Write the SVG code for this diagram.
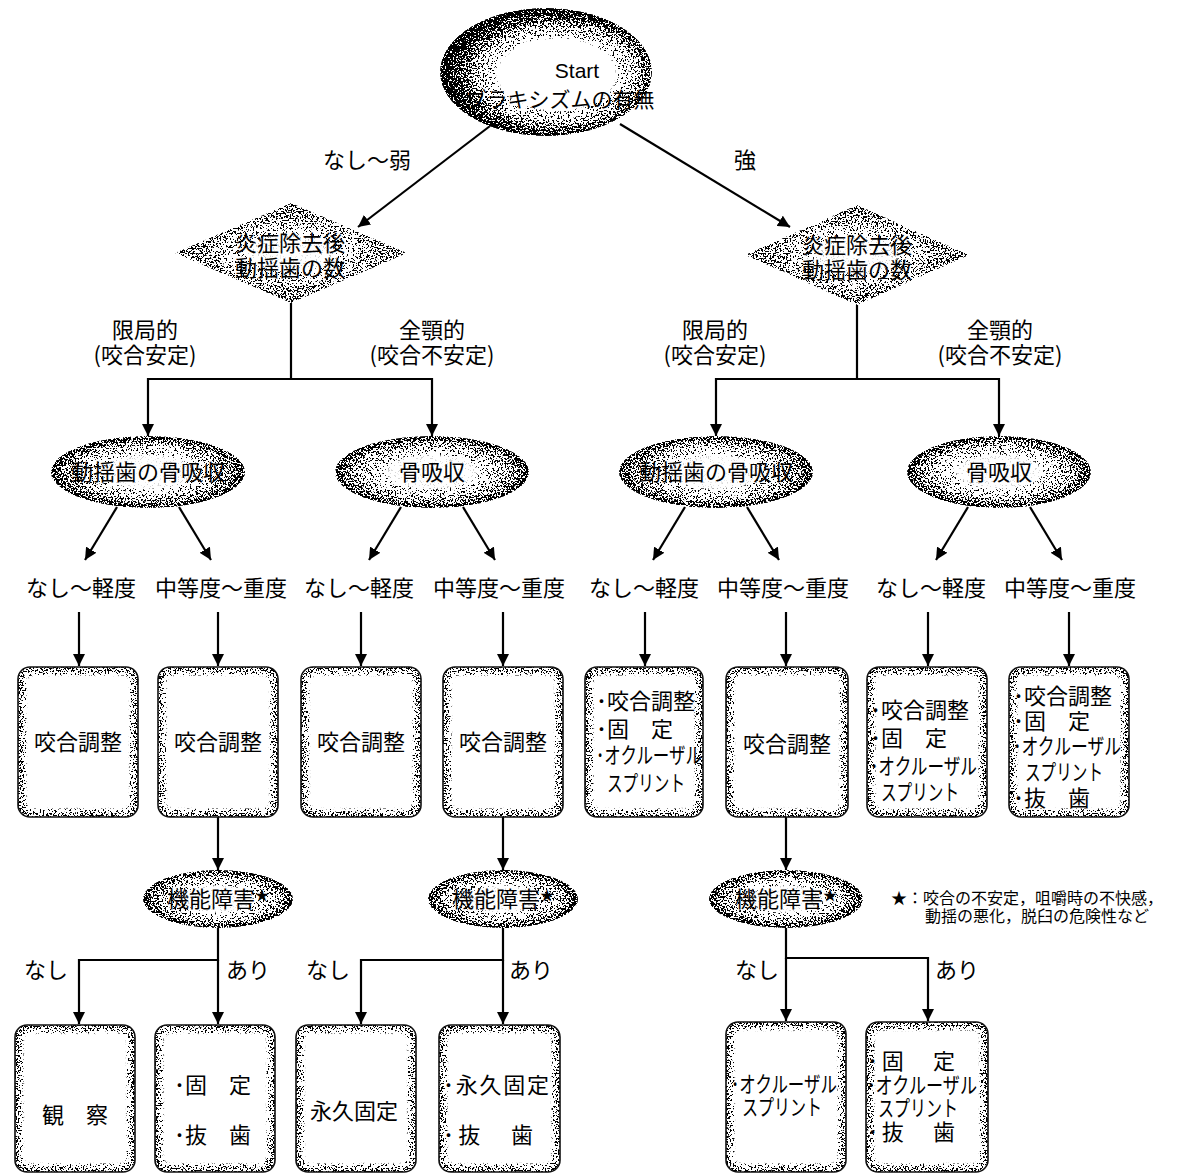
<svg xmlns="http://www.w3.org/2000/svg" width="1177" height="1174" viewBox="0 0 1177 1174">
<defs>
<style>
.t{font-family:"Noto Sans CJK JP","Noto Sans",sans-serif;font-size:22px;fill:#000}
.m{text-anchor:middle}
.lat{font-family:"Liberation Sans","Noto Sans CJK JP",sans-serif}
.fn{font-size:16px}
.c{fill:none;stroke:#000;stroke-width:2.2}
.a{marker-end:url(#ah)}
.bo{fill:none;stroke:#111;stroke-width:1.6}
.bg{fill:#8a8a8a}
.bw{fill:#fff}
</style>
<marker id="ah" viewBox="0 0 12 12" refX="12" refY="6" markerWidth="12" markerHeight="12" markerUnits="userSpaceOnUse" orient="auto"><path d="M0,0 L12,6 L0,12 z" fill="#000"/></marker>
<filter id="st" x="-5%" y="-5%" width="110%" height="110%" color-interpolation-filters="sRGB">
<feTurbulence type="fractalNoise" baseFrequency="0.6" numOctaves="2" seed="7" result="n"/>
<feColorMatrix in="n" type="matrix" values="1 0 0 0 0 1 0 0 0 0 1 0 0 0 0 0 0 0 0 1" result="g"/>
<feComponentTransfer in="g" result="s"><feFuncR type="linear" slope="3.5" intercept="-1.25"/><feFuncG type="linear" slope="3.5" intercept="-1.25"/><feFuncB type="linear" slope="3.5" intercept="-1.25"/></feComponentTransfer>
<feFlood flood-color="#fff" result="w"/>
<feComposite in="SourceGraphic" in2="w" operator="over" result="op"/>
<feComposite in="op" in2="s" operator="arithmetic" k1="0" k2="20" k3="-20" k4="1" result="t"/>
<feComposite in="t" in2="SourceGraphic" operator="in"/>
</filter>
<filter id="bl" x="-10%" y="-10%" width="120%" height="120%"><feGaussianBlur stdDeviation="2.2"/></filter>
<radialGradient id="gTop" cx="0.55" cy="0.52" r="0.55"><stop offset="0" stop-color="#fff"/><stop offset="0.5" stop-color="#fff"/><stop offset="0.66" stop-color="#c4c4c4"/><stop offset="0.8" stop-color="#555"/><stop offset="0.9" stop-color="#111"/><stop offset="1" stop-color="#000"/></radialGradient>
<radialGradient id="gDia"><stop offset="0" stop-color="#fff"/><stop offset="0.35" stop-color="#fcfcfc"/><stop offset="0.55" stop-color="#d8d8d8"/><stop offset="0.72" stop-color="#9a9a9a"/><stop offset="1" stop-color="#777"/></radialGradient>
<radialGradient id="gEl"><stop offset="0" stop-color="#fff"/><stop offset="0.45" stop-color="#fdfdfd"/><stop offset="0.7" stop-color="#c8c8c8"/><stop offset="0.88" stop-color="#777"/><stop offset="1" stop-color="#333"/></radialGradient>
</defs>
<rect width="1177" height="1174" fill="#fff"/>

<g id="connectors">
<path class="c a" d="M490,126 L358,227"/>
<path class="c a" d="M620,124 L790,227"/>
<path class="c a" d="M291,303 V379 H148 V436"/>
<path class="c a" d="M291,379 H432 V436"/>
<path class="c a" d="M857,305 V379 H716 V436"/>
<path class="c a" d="M857,379 H999 V436"/>
<path class="c a" d="M117,507 L85,560"/>
<path class="c a" d="M179,507 L211,560"/>
<path class="c a" d="M401,507 L369,560"/>
<path class="c a" d="M463,507 L495,560"/>
<path class="c a" d="M685,507 L653,560"/>
<path class="c a" d="M747,507 L779,560"/>
<path class="c a" d="M968,507 L936,560"/>
<path class="c a" d="M1030,507 L1062,560"/>
<path class="c a" d="M79,612 V666"/>
<path class="c a" d="M218,612 V666"/>
<path class="c a" d="M361,612 V666"/>
<path class="c a" d="M503,612 V666"/>
<path class="c a" d="M645,612 V666"/>
<path class="c a" d="M786,612 V666"/>
<path class="c a" d="M928,612 V666"/>
<path class="c a" d="M1069,612 V666"/>
<path class="c a" d="M218,817 V870"/>
<path class="c a" d="M503,817 V870"/>
<path class="c a" d="M786,817 V870"/>
<path class="c a" d="M218,928 V960 H79 V1024"/>
<path class="c a" d="M218,960 V1024"/>
<path class="c a" d="M503,928 V960 H361 V1024"/>
<path class="c a" d="M503,960 V1024"/>
<path class="c a" d="M786,928 V958 H928 V1021"/>
<path class="c a" d="M786,958 V1021"/>
</g>

<g id="edge-labels">
<text class="t m" x="367" y="168">なし〜弱</text>
<text class="t m" x="745" y="168">強</text>
<text class="t m" x="145" y="338">限局的<tspan x="145" y="363">(咬合安定)</tspan></text>
<text class="t m" x="432" y="338">全顎的<tspan x="432" y="363">(咬合不安定)</tspan></text>
<text class="t m" x="715" y="338">限局的<tspan x="715" y="363">(咬合安定)</tspan></text>
<text class="t m" x="1000" y="338">全顎的<tspan x="1000" y="363">(咬合不安定)</tspan></text>
<text class="t m" x="81" y="596">なし〜軽度</text>
<text class="t m" x="221" y="596">中等度〜重度</text>
<text class="t m" x="359" y="596">なし〜軽度</text>
<text class="t m" x="499" y="596">中等度〜重度</text>
<text class="t m" x="644" y="596">なし〜軽度</text>
<text class="t m" x="783" y="596">中等度〜重度</text>
<text class="t m" x="931" y="596">なし〜軽度</text>
<text class="t m" x="1070" y="596">中等度〜重度</text>
<text class="t m" x="46" y="978">なし</text>
<text class="t m" x="248" y="978">あり</text>
<text class="t m" x="328" y="978">なし</text>
<text class="t m" x="531" y="978">あり</text>
<text class="t m" x="757" y="978">なし</text>
<text class="t m" x="957" y="978">あり</text>
</g>

<g id="start">
<ellipse cx="546" cy="72" rx="106" ry="64" fill="url(#gTop)" filter="url(#st)"/>
<text class="t m" x="577" y="78"><tspan class="lat" font-size="21">Start</tspan><tspan x="560" y="107" font-size="21">ブラキシズムの有無</tspan></text>
</g>

<g id="dia-left">
<polygon points="175,253 291,203 407,253 291,303" fill="url(#gDia)" filter="url(#st)"/>
<text class="t m" x="290" y="251">炎症除去後<tspan x="290" y="276">動揺歯の数</tspan></text>
</g>
<g id="dia-right">
<polygon points="745,255 857,205 969,255 857,305" fill="url(#gDia)" filter="url(#st)"/>
<text class="t m" x="857" y="253">炎症除去後<tspan x="857" y="278">動揺歯の数</tspan></text>
</g>

<g id="el-1"><ellipse cx="148" cy="472" rx="97" ry="36" fill="url(#gEl)" filter="url(#st)"/><text class="t m" x="148" y="480">動揺歯の骨吸収</text></g>
<g id="el-2"><ellipse cx="432" cy="472" rx="97" ry="36" fill="url(#gEl)" filter="url(#st)"/><text class="t m" x="432" y="480">骨吸収</text></g>
<g id="el-3"><ellipse cx="716" cy="472" rx="97" ry="36" fill="url(#gEl)" filter="url(#st)"/><text class="t m" x="716" y="480">動揺歯の骨吸収</text></g>
<g id="el-4"><ellipse cx="999" cy="472" rx="92" ry="36" fill="url(#gEl)" filter="url(#st)"/><text class="t m" x="999" y="480">骨吸収</text></g>

<g id="box-1"><g filter="url(#st)"><rect class="bg" x="18" y="667" width="120" height="150" rx="12"/><rect class="bw" x="23" y="672" width="110" height="140" rx="9" filter="url(#bl)"/></g><rect class="bo" x="18" y="667" width="120" height="150" rx="12"/><text class="t m" x="78" y="750">咬合調整</text></g>
<g id="box-2"><g filter="url(#st)"><rect class="bg" x="158" y="667" width="120" height="150" rx="12"/><rect class="bw" x="163" y="672" width="110" height="140" rx="9" filter="url(#bl)"/></g><rect class="bo" x="158" y="667" width="120" height="150" rx="12"/><text class="t m" x="218" y="750">咬合調整</text></g>
<g id="box-3"><g filter="url(#st)"><rect class="bg" x="301" y="667" width="120" height="150" rx="12"/><rect class="bw" x="306" y="672" width="110" height="140" rx="9" filter="url(#bl)"/></g><rect class="bo" x="301" y="667" width="120" height="150" rx="12"/><text class="t m" x="361" y="750">咬合調整</text></g>
<g id="box-4"><g filter="url(#st)"><rect class="bg" x="443" y="667" width="120" height="150" rx="12"/><rect class="bw" x="448" y="672" width="110" height="140" rx="9" filter="url(#bl)"/></g><rect class="bo" x="443" y="667" width="120" height="150" rx="12"/><text class="t m" x="503" y="750">咬合調整</text></g>
<g id="box-5"><g filter="url(#st)"><rect class="bg" x="585" y="667" width="118" height="150" rx="12"/><rect class="bw" x="590" y="672" width="108" height="140" rx="9" filter="url(#bl)"/></g><rect class="bo" x="585" y="667" width="118" height="150" rx="12"/>
<text class="t"><tspan x="596" y="709">･咬合調整</tspan><tspan x="596" y="737">･固　定</tspan><tspan x="596" y="763" textLength="106" lengthAdjust="spacingAndGlyphs">･オクルーザル</tspan><tspan x="607" y="791" textLength="78" lengthAdjust="spacingAndGlyphs">スプリント</tspan></text></g>
<g id="box-6"><g filter="url(#st)"><rect class="bg" x="726" y="667" width="122" height="150" rx="12"/><rect class="bw" x="731" y="672" width="112" height="140" rx="9" filter="url(#bl)"/></g><rect class="bo" x="726" y="667" width="122" height="150" rx="12"/><text class="t m" x="787" y="752">咬合調整</text></g>
<g id="box-7"><g filter="url(#st)"><rect class="bg" x="867" y="667" width="120" height="150" rx="12"/><rect class="bw" x="872" y="672" width="110" height="140" rx="9" filter="url(#bl)"/></g><rect class="bo" x="867" y="667" width="120" height="150" rx="12"/>
<text class="t"><tspan x="870" y="718">･咬合調整</tspan><tspan x="870" y="746">･固　定</tspan><tspan x="870" y="774" textLength="107" lengthAdjust="spacingAndGlyphs">･オクルーザル</tspan><tspan x="881" y="800" textLength="78" lengthAdjust="spacingAndGlyphs">スプリント</tspan></text></g>
<g id="box-8"><g filter="url(#st)"><rect class="bg" x="1009" y="667" width="120" height="150" rx="12"/><rect class="bw" x="1014" y="672" width="110" height="140" rx="9" filter="url(#bl)"/></g><rect class="bo" x="1009" y="667" width="120" height="150" rx="12"/>
<text class="t"><tspan x="1013" y="704">･咬合調整</tspan><tspan x="1013" y="729">･固　定</tspan><tspan x="1013" y="754" textLength="108" lengthAdjust="spacingAndGlyphs">･オクルーザル</tspan><tspan x="1025" y="780" textLength="78" lengthAdjust="spacingAndGlyphs">スプリント</tspan><tspan x="1013" y="806">･抜　歯</tspan></text></g>

<g id="func-1"><ellipse cx="218" cy="899" rx="75" ry="29" fill="url(#gEl)" filter="url(#st)"/><text class="t" x="167" y="907">機能障害<tspan font-size="14" dy="-7">★</tspan></text></g>
<g id="func-2"><ellipse cx="503" cy="899" rx="75" ry="29" fill="url(#gEl)" filter="url(#st)"/><text class="t" x="452" y="907">機能障害<tspan font-size="14" dy="-7">★</tspan></text></g>
<g id="func-3"><ellipse cx="786" cy="899" rx="77" ry="29" fill="url(#gEl)" filter="url(#st)"/><text class="t" x="735" y="907">機能障害<tspan font-size="14" dy="-7">★</tspan></text></g>

<g id="note">
<text class="t fn"><tspan x="891" y="904">★：咬合の不安定，咀嚼時の不快感，</tspan><tspan x="925" y="922">動揺の悪化，脱臼の危険性など</tspan></text>
</g>

<g id="box-a"><g filter="url(#st)"><rect class="bg" x="15" y="1025" width="120" height="147" rx="12"/><rect class="bw" x="20" y="1030" width="110" height="137" rx="9" filter="url(#bl)"/></g><rect class="bo" x="15" y="1025" width="120" height="147" rx="12"/><text class="t m" x="75" y="1123">観　察</text></g>
<g id="box-b"><g filter="url(#st)"><rect class="bg" x="155" y="1025" width="120" height="147" rx="12"/><rect class="bw" x="160" y="1030" width="110" height="137" rx="9" filter="url(#bl)"/></g><rect class="bo" x="155" y="1025" width="120" height="147" rx="12"/>
<text class="t"><tspan x="174" y="1093">･固　定</tspan><tspan x="174" y="1143">･抜　歯</tspan></text></g>
<g id="box-c"><g filter="url(#st)"><rect class="bg" x="296" y="1025" width="120" height="147" rx="12"/><rect class="bw" x="301" y="1030" width="110" height="137" rx="9" filter="url(#bl)"/></g><rect class="bo" x="296" y="1025" width="120" height="147" rx="12"/><text class="t m" x="354" y="1119">永久固定</text></g>
<g id="box-d"><g filter="url(#st)"><rect class="bg" x="439" y="1025" width="121" height="147" rx="12"/><rect class="bw" x="444" y="1030" width="111" height="137" rx="9" filter="url(#bl)"/></g><rect class="bo" x="439" y="1025" width="121" height="147" rx="12"/>
<text class="t"><tspan x="443" y="1093" textLength="106">･永久固定</tspan><tspan x="443" y="1143" textLength="90">･抜　歯</tspan></text></g>
<g id="box-e"><g filter="url(#st)"><rect class="bg" x="726" y="1022" width="120" height="150" rx="12"/><rect class="bw" x="731" y="1027" width="110" height="140" rx="9" filter="url(#bl)"/></g><rect class="bo" x="726" y="1022" width="120" height="150" rx="12"/>
<text class="t"><tspan x="731" y="1092" textLength="106" lengthAdjust="spacingAndGlyphs">･オクルーザル</tspan><tspan x="742" y="1115" textLength="80" lengthAdjust="spacingAndGlyphs">スプリント</tspan></text></g>
<g id="box-f"><g filter="url(#st)"><rect class="bg" x="866" y="1022" width="122" height="150" rx="12"/><rect class="bw" x="871" y="1027" width="112" height="140" rx="9" filter="url(#bl)"/></g><rect class="bo" x="866" y="1022" width="122" height="150" rx="12"/>
<text class="t"><tspan x="867" y="1069" textLength="88">･固　定</tspan><tspan x="867" y="1093" textLength="110" lengthAdjust="spacingAndGlyphs">･オクルーザル</tspan><tspan x="878" y="1116" textLength="80" lengthAdjust="spacingAndGlyphs">スプリント</tspan><tspan x="867" y="1140" textLength="88">･抜　歯</tspan></text></g>
</svg>
